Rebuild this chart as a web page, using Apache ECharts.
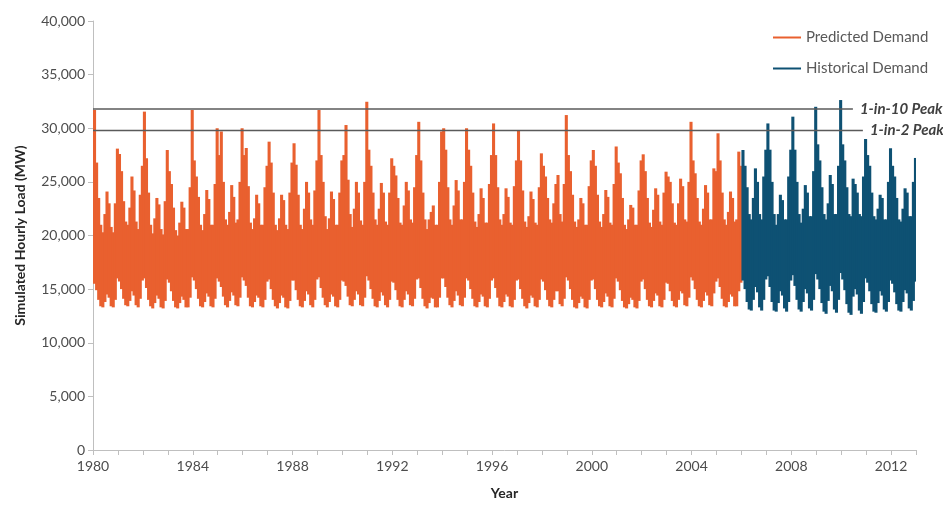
<!DOCTYPE html>
<html>
<head>
<meta charset="utf-8">
<script src="https://cdn.jsdelivr.net/npm/echarts@6/dist/echarts.min.js"></script>
<style>
html,body{margin:0;padding:0;background:#fff;}
#chart{width:943px;height:521px;}
</style>
</head>
<body>
<div id="chart"></div>
<script>
// ---- Data (MW), monthly upper / lower envelope of hourly load ----
const firstPredictedYear = 1980;
const firstHistoricalYear = 2006;
const xTickYears = [1980, 1984, 1988, 1992, 1996, 2000, 2004, 2008, 2012];

// Predicted demand: monthly max, Jan..Dec
const predictedMax = [
  [31700,26800,23500,21000,20300,22000,24100,23000,20800,20300,23000,28100], // 1980
  [27600,26000,23200,21300,21000,22600,25500,24200,21300,20600,23800,26500], // 1981
  [31550,27200,24000,21000,20200,21600,23500,22900,20600,20100,23200,27970], // 1982
  [26000,24800,22600,20500,20000,21200,23150,22600,20600,20600,24500,31700], // 1983
  [27000,25500,23600,21000,20500,22000,24240,23400,21000,21000,24800,30000], // 1984
  [27500,29700,25000,21500,21000,22200,24700,23600,21200,21500,25000,30000], // 1985
  [27500,28160,24600,21200,20600,21600,23800,23000,21000,21000,24500,26500], // 1986
  [28750,26800,24000,21000,20500,21600,23800,23300,21000,20600,24000,26800], // 1987
  [28600,26600,23800,21000,20600,22500,25000,24000,21500,21000,24200,27000], // 1988
  [31700,27500,25000,21800,20600,21600,24100,23400,21000,21000,24000,27000], // 1989
  [27500,30300,25200,22000,20800,22500,25000,24000,21400,21000,25000,32470], // 1990
  [28000,26500,24000,21500,21000,22500,24900,24000,21300,21000,24000,27200], // 1991
  [26500,25600,23500,21200,21000,22800,25000,24200,21500,21200,24500,27500], // 1992
  [30600,27000,24000,21500,20600,21500,22200,22800,21000,21000,25000,29700], // 1993
  [30000,28000,24500,21500,21000,22800,25170,24200,21500,21500,25000,30000], // 1994
  [28000,26500,24000,21300,20800,22000,24400,23500,21200,21200,24800,27500], // 1995
  [30450,27500,24500,21500,21000,22000,24400,23600,21200,21000,24600,27000], // 1996
  [29840,27000,24200,21300,20800,21800,24100,23400,21200,21000,24500,27660], // 1997
  [26500,25500,23500,21500,21200,23000,24800,25640,22000,21300,24800,31230], // 1998
  [27500,26000,23800,21300,20800,21500,23500,23000,21000,21000,24600,27000], // 1999
  [27970,26500,23800,21300,20800,22000,24240,23600,21200,21000,24800,28300], // 2000
  [26800,25800,23500,21000,20600,21500,22850,22600,21000,21000,24200,27000], // 2001
  [27570,26000,23500,21200,20800,22400,24400,23800,21300,21000,24000,25950], // 2002
  [25500,25000,23000,21200,21000,23000,25300,24600,21500,21300,25000,30600], // 2003
  [27000,25800,23500,21300,21000,22500,24700,24000,21500,21500,26260,26000], // 2004
  [29530,27000,24000,21500,21000,22200,24100,23500,21300,21500,27820,26500]  // 2005
];
// Predicted demand: monthly min, Jan..Dec
const predictedMin = [
  [15500,14900,14000,13400,13300,13800,14500,14200,13400,13300,14000,16000], // 1980
  [15700,15000,14100,13500,13400,13900,14800,14400,13500,13300,14100,15800], // 1981
  [16000,15100,14000,13400,13200,13700,14400,14100,13300,13200,13900,15900], // 1982
  [15600,14800,13900,13300,13200,13700,14300,14000,13300,13300,14200,16100], // 1983
  [15800,15000,14100,13400,13300,13800,14600,14300,13400,13300,14100,16000], // 1984
  [15700,15200,14300,13500,13300,13900,14700,14400,13500,13400,14200,16100], // 1985
  [15800,15300,14200,13400,13300,13800,14400,14200,13400,13300,14000,15700], // 1986
  [15900,15000,14000,13400,13200,13700,14400,14200,13300,13200,13900,15800], // 1987
  [15800,14900,14000,13400,13300,13900,14800,14500,13500,13300,14000,15900], // 1988
  [16100,15100,14200,13500,13300,13800,14500,14300,13400,13300,14000,15800], // 1989
  [15700,15300,14300,13500,13400,14000,14800,14500,13500,13400,14200,16200], // 1990
  [15800,15000,14100,13400,13300,13900,14700,14400,13500,13300,14000,15700], // 1991
  [15600,14900,14000,13400,13300,14000,14800,14500,13500,13400,14100,15900], // 1992
  [16000,15100,14100,13400,13200,13700,14200,14100,13300,13300,14200,16000], // 1993
  [16000,15200,14200,13500,13300,13900,14800,14400,13500,13400,14200,16000], // 1994
  [15800,15000,14100,13400,13300,13800,14500,14300,13400,13300,14100,15800], // 1995
  [16000,15100,14200,13400,13300,13800,14500,14300,13400,13300,14000,15800], // 1996
  [15900,15000,14100,13400,13200,13700,14400,14200,13400,13300,14000,15900], // 1997
  [15700,14900,14000,13400,13300,14000,14800,14800,13600,13400,14100,16100], // 1998
  [15800,15000,14000,13300,13200,13700,14300,14100,13300,13200,14000,15800], // 1999
  [15900,15000,14000,13400,13300,13800,14600,14300,13400,13300,14100,16000], // 2000
  [15700,14900,13900,13300,13200,13600,14200,14000,13300,13200,13900,15700], // 2001
  [15900,15000,14000,13400,13300,13900,14600,14400,13400,13300,14000,15600], // 2002
  [15500,14800,13900,13400,13300,14000,14800,14600,13500,13400,14200,16100], // 2003
  [15800,15000,14000,13400,13300,13900,14700,14400,13500,13400,14600,15700], // 2004
  [16000,15200,14100,13400,13300,13800,14500,14300,13400,13400,14800,15600]  // 2005
];
// Historical demand: monthly max, Jan..Dec
const historicalMax = [
  [27970,26500,24500,22000,21500,23500,26260,25000,22000,21500,25500,28000], // 2006
  [30450,28000,25000,22000,21000,22000,23800,23300,21500,21500,25500,28000], // 2007
  [31080,28000,25000,22000,21200,22500,24700,24000,21800,21800,26000,32000], // 2008
  [28500,27000,24500,22000,21500,23000,25640,24800,22000,22000,26500,32630], // 2009
  [28500,27000,24500,22000,21800,25300,24800,24000,22000,21800,25500,29000], // 2010
  [27500,26500,24000,21800,21500,22500,23800,23500,21500,21500,25000,28130], // 2011
  [26500,25500,23500,21500,21300,22500,24400,24000,21800,21800,25000,27230]  // 2012
];
// Historical demand: monthly min, Jan..Dec
const historicalMin = [
  [15800,15000,13800,13100,13000,14000,15200,14700,13300,13000,14000,15900], // 2006
  [16200,15200,13800,13000,12900,13700,14800,14400,13200,12900,13800,15800], // 2007
  [16300,15300,14000,13100,12900,13800,15000,14600,13200,13000,14000,16400], // 2008
  [15900,15000,13700,12900,12700,13900,15300,14800,13100,12800,14000,16500], // 2009
  [15900,14900,13600,12800,12600,14300,15000,14500,13000,12700,13800,16000], // 2010
  [15600,14800,13600,12900,12800,13700,14800,14400,13100,12900,13800,15800], // 2011
  [15500,14700,13600,13000,12900,13800,14900,14600,13200,13000,13900,15700]  // 2012
];

// Planning peak levels (MW) and the year at which each drawn line stops
const peakNames = ['1-in-10 Peak', '1-in-2 Peak'];
const peakValues = [31800, 29800];
const peakLineEndYears = [2010.47, 2010.87];

// ---- One range item per month: [monthStart, monthEnd, min, max] ----
function monthlyRanges(maxRows, minRows, firstYear) {
  const items = [];
  maxRows.forEach((row, yi) => {
    row.forEach((v, mi) => {
      const t = firstYear + yi + mi / 12;
      items.push([t, t + 1 / 12, minRows[yi][mi], v]);
    });
  });
  return items;
}

function renderRange(params, api) {
  const p0 = api.coord([api.value(0), api.value(3)]);
  const p1 = api.coord([api.value(1), api.value(2)]);
  const x0 = Math.min(p0[0], p1[0]);
  const w = Math.abs(p1[0] - p0[0]) + 1;
  const y0 = Math.min(p0[1], p1[1]);
  const h = Math.abs(p1[1] - p0[1]);
  return {
    type: 'rect',
    shape: {x: x0, y: y0, width: w, height: h},
    style: {fill: api.visual('color')}
  };
}

const chart = echarts.init(document.getElementById('chart'), null, {renderer: 'canvas'});
const FONT = 'Lato';
const peakSeries = peakNames.map((name, i) => ({
  name: name,
  type: 'line',
  data: [[firstPredictedYear, peakValues[i]], [peakLineEndYears[i], peakValues[i]]],
  showSymbol: false,
  symbol: 'none',
  silent: true,
  z: 5,
  lineStyle: {color: '#5a5a5a', width: 1.5},
  endLabel: {
    show: true,
    formatter: name,
    color: '#404040',
    fontFamily: FONT,
    fontSize: 15,
    fontStyle: 'italic',
    fontWeight: 'bold',
    distance: 7
  }
}));

chart.setOption({
  animation: false,
  backgroundColor: '#ffffff',
  textStyle: {fontFamily: FONT},
  grid: {left: 93, right: 27, top: 21, bottom: 71, containLabel: false},
  legend: {
    data: [
      {name: 'Predicted Demand', icon: 'rect', itemStyle: {color: '#e9602f'}},
      {name: 'Historical Demand', icon: 'rect', itemStyle: {color: '#0e5173'}}
    ],
    orient: 'vertical',
    left: 768,
    top: 25,
    itemGap: 16,
    itemWidth: 28,
    itemHeight: 2,
    textStyle: {color: '#595959', fontSize: 15, fontFamily: FONT}
  },
  xAxis: {
    type: 'value',
    min: 1980,
    max: 2013,
    interval: 1,
    name: 'Year',
    nameLocation: 'middle',
    nameGap: 36,
    nameTextStyle: {color: '#262626', fontSize: 14, fontWeight: 'bold', fontFamily: FONT},
    axisLine: {show: true, onZero: false, lineStyle: {color: '#bfbfbf', width: 1}},
    axisTick: {show: true, length: 5, lineStyle: {color: '#bfbfbf'}},
    splitLine: {show: false},
    axisLabel: {
      color: '#4d4d4d',
      fontSize: 14,
      fontFamily: FONT,
      margin: 9,
      formatter: v => (xTickYears.indexOf(v) >= 0 ? String(v) : '')
    }
  },
  yAxis: {
    type: 'value',
    min: 0,
    max: 40000,
    interval: 5000,
    name: 'Simulated Hourly Load (MW)',
    nameLocation: 'middle',
    nameGap: 66,
    nameTextStyle: {color: '#262626', fontSize: 14, fontWeight: 'bold', fontFamily: FONT},
    axisLine: {show: true, lineStyle: {color: '#bfbfbf', width: 1}},
    axisTick: {show: true, length: 5, lineStyle: {color: '#bfbfbf'}},
    splitLine: {show: false},
    axisLabel: {
      color: '#4d4d4d',
      fontSize: 14,
      fontFamily: FONT,
      margin: 8,
      formatter: v => v.toLocaleString('en-US')
    }
  },
  series: [
    {
      name: 'Predicted Demand',
      type: 'custom',
      renderItem: renderRange,
      data: monthlyRanges(predictedMax, predictedMin, firstPredictedYear),
      encode: {x: [0, 1], y: [2, 3]},
      silent: true,
      clip: true,
      z: 2,
      itemStyle: {color: '#e9602f'}
    },
    {
      name: 'Historical Demand',
      type: 'custom',
      renderItem: renderRange,
      data: monthlyRanges(historicalMax, historicalMin, firstHistoricalYear),
      encode: {x: [0, 1], y: [2, 3]},
      silent: true,
      clip: true,
      z: 3,
      itemStyle: {color: '#0e5173'}
    }
  ].concat(peakSeries)
});
</script>
</body>
</html>
